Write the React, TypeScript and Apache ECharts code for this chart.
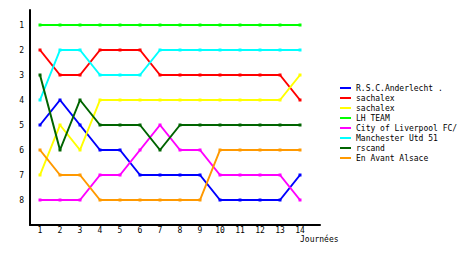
import React, { useEffect, useRef } from "react";
import * as echarts from "echarts";

const rounds = [1, 2, 3, 4, 5, 6, 7, 8, 9, 10, 11, 12, 13, 14];
const rankTicks = [1, 2, 3, 4, 5, 6, 7, 8];

const teamNames = [
  "R.S.C.Anderlecht .",
  "sachalex",
  "sachalex",
  "LH TEAM",
  "City of Liverpool FC/",
  "Manchester Utd 51",
  "rscand",
  "En Avant Alsace",
];
const teamColors = ["#0000ff", "#ff0000", "#ffff00", "#00ff00", "#ff00ff", "#00ffff", "#006400", "#ff9900"];

const anderlecht = [5, 4, 5, 6, 6, 7, 7, 7, 7, 8, 8, 8, 8, 7];
const sachalexA = [2, 3, 3, 2, 2, 2, 3, 3, 3, 3, 3, 3, 3, 4];
const sachalexB = [7, 5, 6, 4, 4, 4, 4, 4, 4, 4, 4, 4, 4, 3];
const lhTeam = [1, 1, 1, 1, 1, 1, 1, 1, 1, 1, 1, 1, 1, 1];
const liverpool = [8, 8, 8, 7, 7, 6, 5, 6, 6, 7, 7, 7, 7, 8];
const manchester = [4, 2, 2, 3, 3, 3, 2, 2, 2, 2, 2, 2, 2, 2];
const rscand = [3, 6, 4, 5, 5, 5, 6, 5, 5, 5, 5, 5, 5, 5];
const enAvant = [6, 7, 7, 8, 8, 8, 8, 8, 8, 6, 6, 6, 6, 6];

const allSeries = [anderlecht, sachalexA, sachalexB, lhTeam, liverpool, manchester, rscand, enAvant];

const FONT = "DejaVu Sans Mono";

export default function App() {
  const ref = useRef<HTMLDivElement>(null);
  useEffect(() => {
    if (!ref.current) return;
    const chart = echarts.init(ref.current, null, { renderer: "svg" });
    const keyed = teamNames.map((n, i) => n + "#" + i);
    chart.setOption({
      animation: false,
      backgroundColor: "#ffffff",
      textStyle: { fontFamily: FONT },
      grid: { left: 30, right: 140, top: 10, bottom: 30 },
      xAxis: {
        type: "value",
        min: 0.5,
        max: 15,
        axisLine: { show: true, lineStyle: { color: "#000", width: 2 } },
        axisTick: { show: false },
        splitLine: { show: false },
        axisLabel: {
          customValues: rounds,
          color: "#000",
          fontFamily: FONT,
          fontSize: 8,
          margin: 1,
        },
      },
      yAxis: {
        type: "value",
        inverse: true,
        min: 0.4,
        max: 9,
        axisLine: { show: true, lineStyle: { color: "#000", width: 2 } },
        axisTick: { show: false },
        splitLine: { show: false },
        axisLabel: {
          customValues: rankTicks,
          color: "#000",
          fontFamily: FONT,
          fontSize: 8,
          margin: 6,
        },
      },
      legend: {
        orient: "vertical",
        left: 340,
        top: 83,
        padding: 0,
        itemWidth: 11,
        itemHeight: 2,
        itemGap: 0,
        icon: "rect",
        data: keyed,
        formatter: (name: string) => name.replace(/#\d+$/, ""),
        textStyle: { fontFamily: FONT, fontSize: 8, color: "#000", lineHeight: 8, padding: [2, 0, 0, 0] },
      },
      graphic: [
        {
          type: "text",
          left: 300,
          top: 235,
          style: { text: "Journées", fontFamily: FONT, fontSize: 8, fill: "#000" },
        },
      ],
      series: allSeries.map((vals, i) => ({
        type: "line",
        name: keyed[i],
        data: vals.map((v, j) => [rounds[j], v]),
        color: teamColors[i],
        lineStyle: { width: 2, color: teamColors[i] },
        itemStyle: { color: teamColors[i] },
        symbol: "rect",
        symbolSize: 3,
        showSymbol: true,
      })),
    });
    return () => chart.dispose();
  }, []);
  return (
    <div
      ref={ref}
      style={{ position: "absolute", left: 0, top: 0, width: 460, height: 255 }}
    />
  );
}
